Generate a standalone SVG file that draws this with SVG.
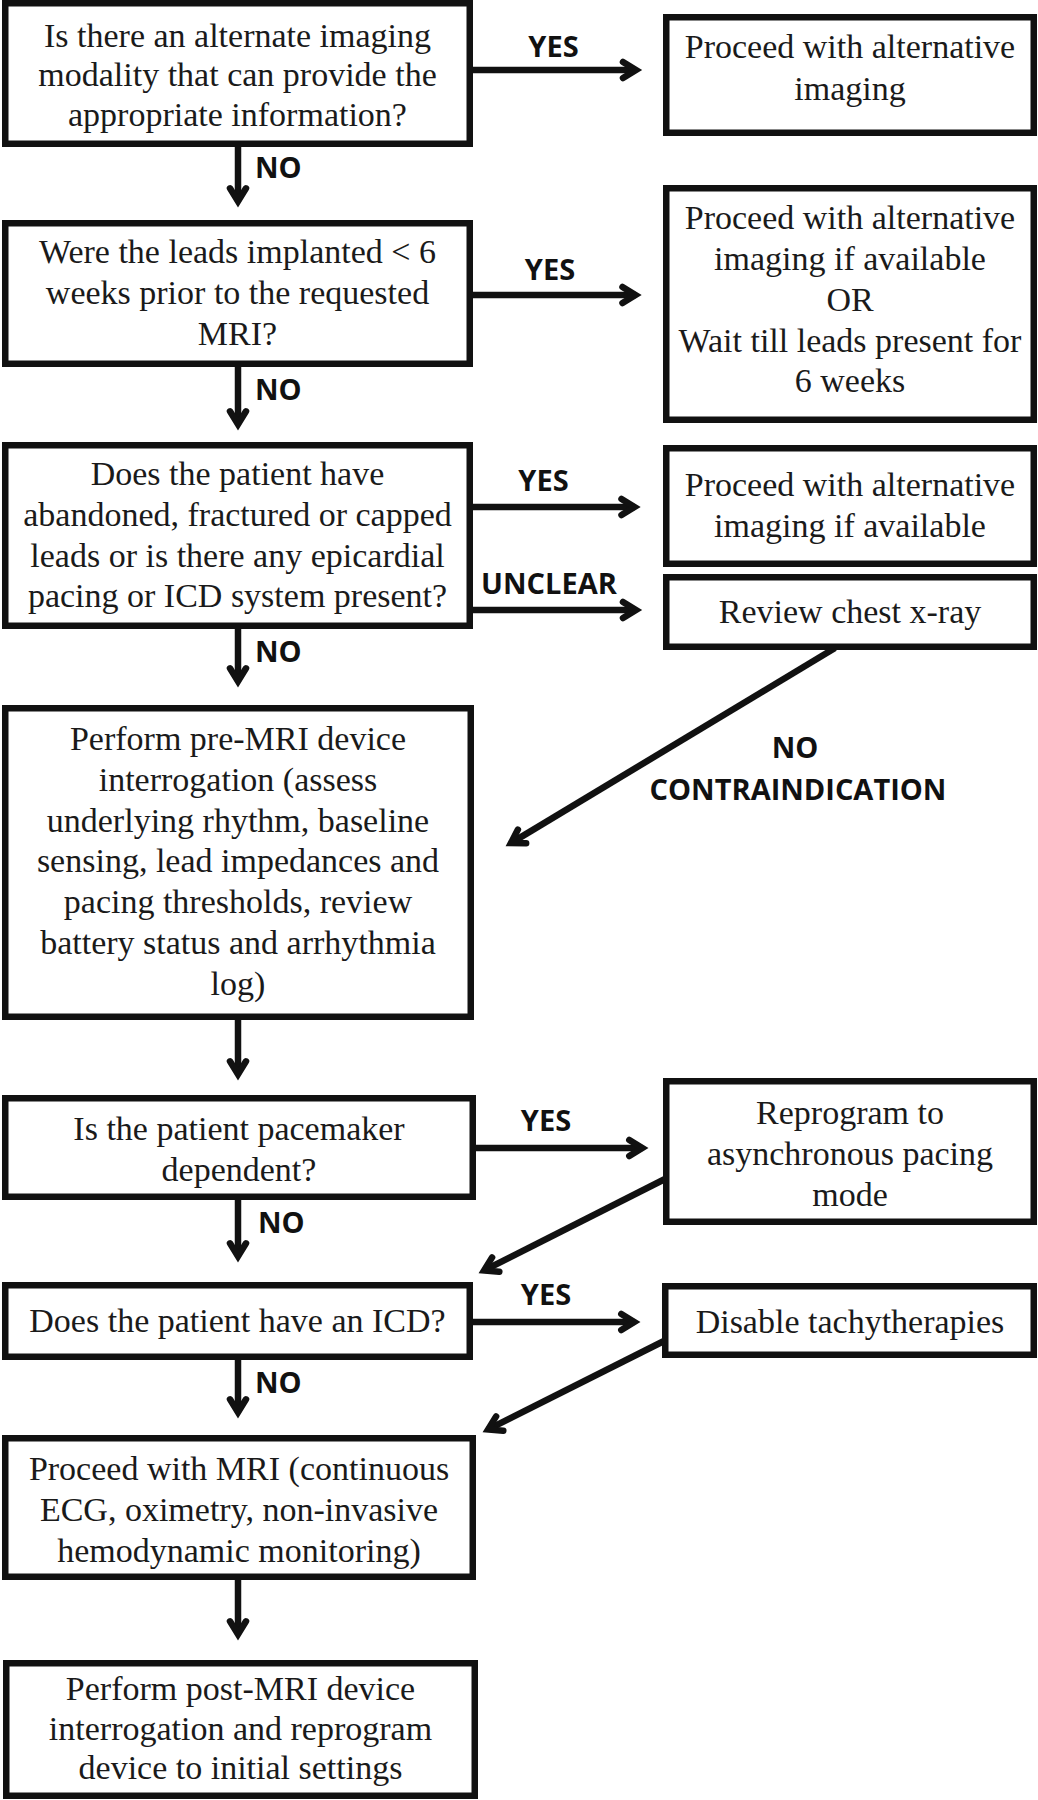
<svg xmlns="http://www.w3.org/2000/svg" width="1038" height="1800" viewBox="0 0 1038 1800">
<style>
.box{fill:#fff;stroke:#111;stroke-width:6.5}
.t{font-family:"Liberation Serif","Times New Roman",serif;font-size:34px;fill:#1a1a1a;text-anchor:middle}
.lbl{font-family:"Open Sans","Liberation Sans",sans-serif;font-weight:700;font-size:29px;fill:#111}
.c{text-anchor:middle}
.conn{stroke:#111;stroke-width:6.5;fill:none;marker-end:url(#ah)}
</style>
<defs>
<marker id="ah" markerUnits="userSpaceOnUse" markerWidth="40" markerHeight="40" viewBox="-20 -20 40 40" refX="0" refY="0" orient="auto" overflow="visible">
<path d="M-13,-8 L0,0 L-13,8" fill="none" stroke="#111" stroke-width="6.5" stroke-linecap="round" stroke-linejoin="miter"/>
</marker>
</defs>
<rect width="1038" height="1800" fill="#fff"/>
<g id="connectors">
<line class="conn" x1="470" y1="70" x2="636" y2="70"/>
<line class="conn" x1="470" y1="295" x2="635.5" y2="295"/>
<line class="conn" x1="470" y1="507" x2="634.5" y2="507"/>
<line class="conn" x1="470" y1="610" x2="636" y2="610"/>
<line class="conn" x1="473" y1="1148" x2="642.3" y2="1148"/>
<line class="conn" x1="470" y1="1322" x2="634.3" y2="1322"/>
<line class="conn" x1="238" y1="144" x2="238" y2="201.3"/>
<line class="conn" x1="238" y1="364" x2="238" y2="424.3"/>
<line class="conn" x1="238" y1="626" x2="238" y2="681.3"/>
<line class="conn" x1="238" y1="1017" x2="238" y2="1074.3"/>
<line class="conn" x1="238" y1="1197" x2="238" y2="1256.3"/>
<line class="conn" x1="238" y1="1357" x2="238" y2="1412.3"/>
<line class="conn" x1="238" y1="1577" x2="238" y2="1634.3"/>
<line class="conn" x1="835" y1="648" x2="510.9" y2="843.1"/>
<line class="conn" x1="665" y1="1179" x2="484.1" y2="1270.4"/>
<line class="conn" x1="664" y1="1341" x2="488.1" y2="1429.4"/>
<text class="lbl c" x="553.5" y="57">YES</text>
<text class="lbl c" x="550" y="280">YES</text>
<text class="lbl c" x="543.5" y="491">YES</text>
<text class="lbl c" x="549" y="594">UNCLEAR</text>
<text class="lbl c" x="546" y="1131">YES</text>
<text class="lbl c" x="546" y="1305">YES</text>
<text class="lbl" x="255" y="178">NO</text>
<text class="lbl" x="255" y="400">NO</text>
<text class="lbl" x="255" y="662">NO</text>
<text class="lbl" x="258" y="1233">NO</text>
<text class="lbl" x="255" y="1393">NO</text>
<text class="lbl c" x="795" y="758">NO</text>
<text class="lbl c" x="798" y="800">CONTRAINDICATION</text>
</g>
<g id="b1"><rect class="box" x="5.25" y="3.25" width="464.5" height="140.5"/>
<text class="t" x="237.5" y="46.7">Is there an alternate imaging</text>
<text class="t" x="237.5" y="86">modality that can provide the</text>
<text class="t" x="237.5" y="126">appropriate information?</text></g>
<g id="b2"><rect class="box" x="5.25" y="223.25" width="464.5" height="140.5"/>
<text class="t" x="237.5" y="263">Were the leads implanted &lt; 6</text>
<text class="t" x="237.5" y="304">weeks prior to the requested</text>
<text class="t" x="237.5" y="345">MRI?</text></g>
<g id="b3"><rect class="box" x="5.25" y="445.25" width="464.5" height="180.5"/>
<text class="t" x="237.5" y="485">Does the patient have</text>
<text class="t" x="237.5" y="526">abandoned, fractured or capped</text>
<text class="t" x="237.5" y="566.5">leads or is there any epicardial</text>
<text class="t" x="237.5" y="607">pacing or ICD system present?</text></g>
<g id="b4"><rect class="box" x="5.25" y="708.25" width="465.5" height="308.5"/>
<text class="t" x="238" y="750">Perform pre-MRI device</text>
<text class="t" x="238" y="791">interrogation (assess</text>
<text class="t" x="238" y="832">underlying rhythm, baseline</text>
<text class="t" x="238" y="872">sensing, lead impedances and</text>
<text class="t" x="238" y="913">pacing thresholds, review</text>
<text class="t" x="238" y="954">battery status and arrhythmia</text>
<text class="t" x="238" y="995">log)</text></g>
<g id="b5"><rect class="box" x="5.25" y="1098.25" width="467.5" height="98.5"/>
<text class="t" x="239" y="1140">Is the patient pacemaker</text>
<text class="t" x="239" y="1181">dependent?</text></g>
<g id="b6"><rect class="box" x="5.25" y="1285.25" width="464.5" height="71.5"/>
<text class="t" x="237.5" y="1332">Does the patient have an ICD?</text></g>
<g id="b7"><rect class="box" x="5.25" y="1438.25" width="467.5" height="138.5"/>
<text class="t" x="239" y="1480">Proceed with MRI (continuous</text>
<text class="t" x="239" y="1521">ECG, oximetry, non-invasive</text>
<text class="t" x="239" y="1562">hemodynamic monitoring)</text></g>
<g id="b8"><rect class="box" x="6.25" y="1663.25" width="468.5" height="132.5"/>
<text class="t" x="240.5" y="1700">Perform post-MRI device</text>
<text class="t" x="240.5" y="1740">interrogation and reprogram</text>
<text class="t" x="240.5" y="1779">device to initial settings</text></g>
<g id="r1"><rect class="box" x="666.25" y="17.25" width="367.5" height="115.5"/>
<text class="t" x="850" y="57.5">Proceed with alternative</text>
<text class="t" x="850" y="99.5">imaging</text></g>
<g id="r2"><rect class="box" x="666.25" y="188.25" width="367.5" height="231.5"/>
<text class="t" x="850" y="229">Proceed with alternative</text>
<text class="t" x="850" y="270">imaging if available</text>
<text class="t" x="850" y="310.7">OR</text>
<text class="t" x="850" y="351.7">Wait till leads present for</text>
<text class="t" x="850" y="391.7">6 weeks</text></g>
<g id="r3"><rect class="box" x="666.25" y="448.25" width="367.5" height="115.5"/>
<text class="t" x="850" y="496">Proceed with alternative</text>
<text class="t" x="850" y="537">imaging if available</text></g>
<g id="r4"><rect class="box" x="666.25" y="577.25" width="367.5" height="69.5"/>
<text class="t" x="850" y="623">Review chest x-ray</text></g>
<g id="r5"><rect class="box" x="666.25" y="1081.25" width="367.5" height="140.5"/>
<text class="t" x="850" y="1124">Reprogram to</text>
<text class="t" x="850" y="1165">asynchronous pacing</text>
<text class="t" x="850" y="1206">mode</text></g>
<g id="r6"><rect class="box" x="665.25" y="1286.25" width="368.5" height="68.5"/>
<text class="t" x="850" y="1333">Disable tachytherapies</text></g>
</svg>
